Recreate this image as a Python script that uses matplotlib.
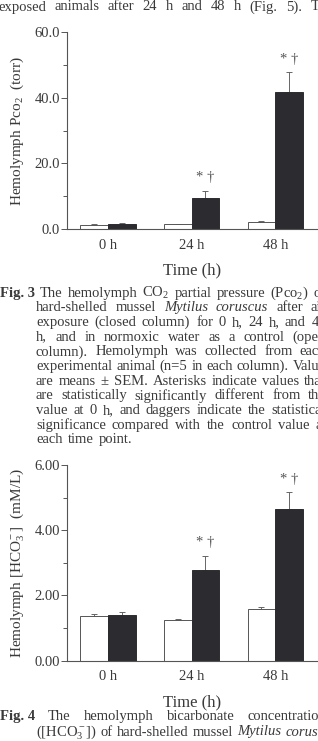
import matplotlib
matplotlib.use('Agg')
import matplotlib.pyplot as plt
from matplotlib.ticker import MultipleLocator, FormatStrFormatter

plt.rcParams['font.family'] = ['Liberation Serif', 'DejaVu Serif']
plt.rcParams['mathtext.fontset'] = 'custom'
plt.rcParams['mathtext.rm'] = 'Liberation Serif'
plt.rcParams['mathtext.it'] = 'Liberation Serif:italic'

# datos
tiempos = ['0 h', '24 h', '48 h']

pco2_control = [1.3, 1.4, 2.1]
pco2_control_err = [0.1, 0.1, 0.3]
pco2_aire = [1.6, 9.6, 41.8]
pco2_aire_err = [0.2, 2.0, 6.0]

hco3_control = [1.37, 1.26, 1.58]
hco3_control_err = [0.05, 0.03, 0.06]
hco3_aire = [1.40, 2.77, 4.66]
hco3_aire_err = [0.08, 0.45, 0.50]

signif_pco2 = ['', '* †', '* †']
signif_hco3 = ['', '* †', '* †']

W, H = 318, 741
TXT = '#3a3a3a'
NEGRO = '#2b2b30'

fig = plt.figure(figsize=(W / 100, H / 100), dpi=100)


def px_axes(x0, y_top, x1, y_bot):
    return fig.add_axes([x0 / W, 1 - y_bot / H, (x1 - x0) / W, (y_bot - y_top) / H])


def barras(ax, control, c_err, aire, a_err, ymax, paso, fmt, signif, ylabel):
    x = range(len(tiempos))
    w = 0.33
    xc = [i - w / 2 for i in x]
    xa = [i + w / 2 for i in x]
    ax.bar(xc, control, width=w, color='white', edgecolor='#555555', linewidth=0.7, zorder=2)
    ax.bar(xa, aire, width=w, color=NEGRO, edgecolor=NEGRO, linewidth=0.7, zorder=2)
    ax.errorbar(xc, control, yerr=[[0] * 3, c_err], fmt='none', ecolor='#666666',
                elinewidth=0.7, capsize=2, capthick=0.7, zorder=1)
    ax.errorbar(xa, aire, yerr=[[0] * 3, a_err], fmt='none', ecolor='#666666',
                elinewidth=0.7, capsize=2, capthick=0.7, zorder=1)
    for i in x:
        if signif[i]:
            ax.text(xa[i], aire[i] + a_err[i] + ymax * 0.035, signif[i], ha='center',
                    va='bottom', fontsize=10.5, color='#555555')
    ax.set_xlim(-0.49, 2.5)
    ax.set_ylim(0, ymax)
    ax.set_xticks(list(x))
    ax.set_xticklabels(tiempos, fontsize=10.5, color=TXT)
    ax.tick_params(axis='x', length=0, pad=7)
    ax.yaxis.set_major_locator(MultipleLocator(paso))
    ax.yaxis.set_minor_locator(MultipleLocator(paso / 2))
    ax.yaxis.set_major_formatter(FormatStrFormatter(fmt))
    ax.tick_params(axis='y', which='major', length=4, width=0.7, labelsize=10.5,
                   labelcolor=TXT, color='#555555', pad=1)
    ax.tick_params(axis='y', which='minor', length=3, width=0.7, color='#555555')
    for s in ['top', 'right']:
        ax.spines[s].set_visible(False)
    for s in ['left', 'bottom']:
        ax.spines[s].set_linewidth(0.8)
        ax.spines[s].set_color('#555555')
    ax.set_xlabel('Time (h)', fontsize=12, color=TXT, labelpad=8)
    ax.set_ylabel(ylabel, fontsize=11, color=TXT, labelpad=6)


ax1 = px_axes(67, 32.5, 317, 229)
barras(ax1, pco2_control, pco2_control_err, pco2_aire, pco2_aire_err, 60, 20, '%.1f',
       signif_pco2, r'Hemolymph Pco$_2$  (torr)')

ax2 = px_axes(67, 465, 317, 660.7)
barras(ax2, hco3_control, hco3_control_err, hco3_aire, hco3_aire_err, 6, 2, '%.2f',
       signif_hco3, r'Hemolymph [HCO$_3^-$]  (mM/L)')

# texto de la pagina (justificado a mano, lo que sobra queda cortado en el borde)
fig.canvas.draw()
rend = fig.canvas.get_renderer()


def linea(y, palabras, x0, x1=326, justificar=True, size=10.5):
    items = []
    total = 0
    for p in palabras:
        if isinstance(p, str):
            p = (p, 'normal', 'normal')
        t = fig.text(0, 1 - y / H, p[0], fontsize=size, fontweight=p[1], fontstyle=p[2],
                     color=TXT, va='center', ha='left')
        wpx = t.get_window_extent(rend).width
        items.append((t, wpx))
        total += wpx
    gap = size * 0.5
    if justificar and len(items) > 1:
        gap = max((x1 - x0 - total) / (len(items) - 1), 4)
    x = x0
    for t, wpx in items:
        t.set_x(x / W)
        x += wpx + gap


linea(7, 'exposed animals after 24 h and 48 h (Fig. 5). The'.split(), -2, 333)

cap3 = [
    [('Fig. 3', 'bold', 'normal')] + r'The hemolymph CO$_2$ partial pressure (Pco$_2$) of'.split(),
    ['hard-shelled', 'mussel', ('Mytilus', 'normal', 'italic'), ('coruscus', 'normal', 'italic'),
     'after', 'air'],
    'exposure (closed column) for 0 h, 24 h, and 48'.split(),
    'h, and in normoxic water as a control (open'.split(),
    'column). Hemolymph was collected from each'.split(),
    'experimental animal (n=5 in each column). Values'.split(),
    'are means ± SEM. Asterisks indicate values that'.split(),
    'are statistically significantly different from the'.split(),
    'value at 0 h, and daggers indicate the statistical'.split(),
    'significance compared with the control value at'.split(),
]
y = 293
for i, pal in enumerate(cap3):
    x0 = 0 if i == 0 else 36
    linea(y, pal, x0)
    y += 14.7
linea(y, 'each time point.'.split(), 36, justificar=False)

linea(716.5, [('Fig. 4', 'bold', 'normal')] + 'The hemolymph bicarbonate concentration'.split(), 0)
linea(732, [r'([HCO$_3^-$])'] + 'of hard-shelled mussel'.split()
      + [('Mytilus', 'normal', 'italic'), ('coruscus', 'normal', 'italic')], 36)

fig.savefig('out.png', dpi=100)
